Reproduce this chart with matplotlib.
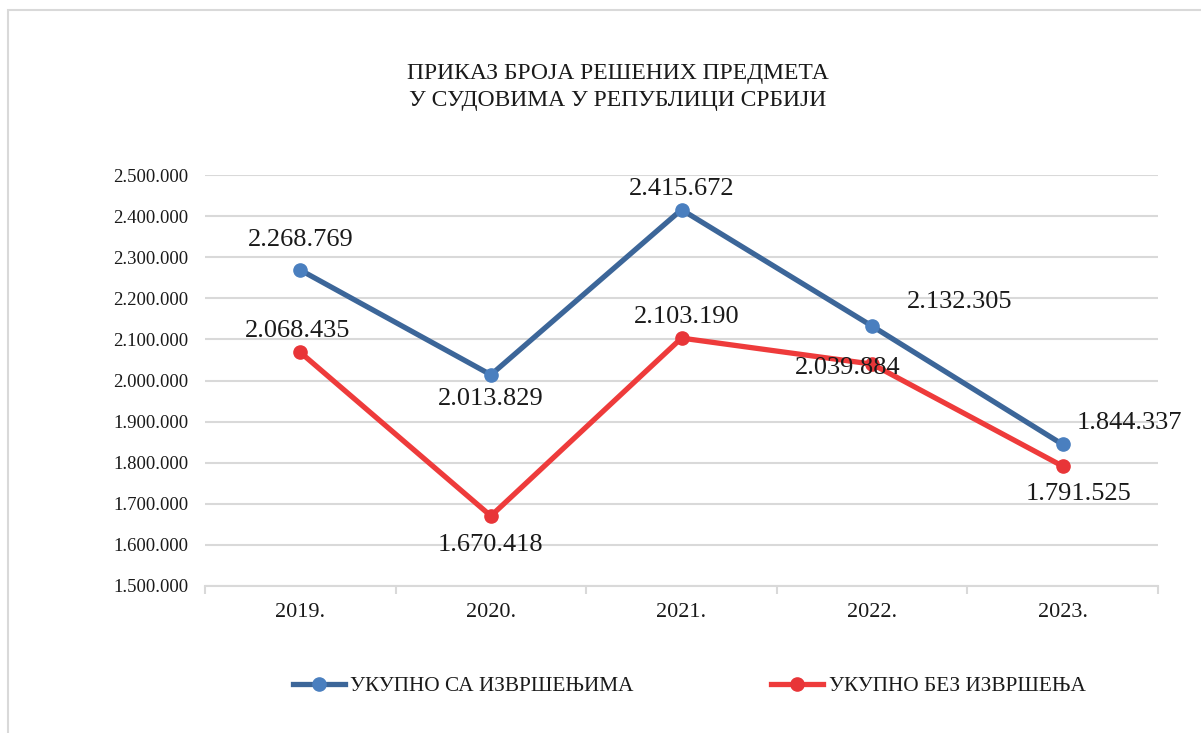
import matplotlib
matplotlib.use("Agg")
import matplotlib.pyplot as plt
from matplotlib.patches import Rectangle
from matplotlib.lines import Line2D

plt.rcParams['font.family'] = ['Liberation Serif', 'DejaVu Serif']

years = ["2019.", "2020.", "2021.", "2022.", "2023."]
with_enforcement = [2268769, 2013829, 2415672, 2132305, 1844337]
without_enforcement = [2068435, 1670418, 2103190, 2039884, 1791525]
series_names = ["УКУПНО СА ИЗВРШЕЊИМА", "УКУПНО БЕЗ ИЗВРШЕЊА"]
title = "ПРИКАЗ БРОЈА РЕШЕНИХ ПРЕДМЕТА\nУ СУДОВИМА У РЕПУБЛИЦИ СРБИЈИ"
yticks = [1500000 + i * 100000 for i in range(11)]

def fmt(v):
    return f"{v:,}".replace(",", ".")

W, H = 1201, 733
fig = plt.figure(figsize=(W / 100, H / 100), dpi=100)

# outer frame (only left and top edges visible)
fig.patches.append(Rectangle((8 / W, -0.1), 1.2, 1 - 10 / H + 0.1, transform=fig.transFigure,
                             fill=False, edgecolor="#D9D9D9", linewidth=1.5))

ax = fig.add_axes([205 / W, 1 - 586 / H, (1158 - 205) / W, (586 - 175) / H])
x = list(range(len(years)))

blue_line, blue_mark = "#3C6699", "#4A7FBF"
red_line, red_mark = "#EE3B3B", "#E83538"
text_col = "#1A1A1A"

ax.plot(x, with_enforcement, color=blue_line, linewidth=3.8, marker="o", markersize=9.5,
        markerfacecolor=blue_mark, markeredgecolor=blue_mark, zorder=3, solid_capstyle="round")
ax.plot(x, without_enforcement, color=red_line, linewidth=3.8, marker="o", markersize=9.5,
        markerfacecolor=red_mark, markeredgecolor=red_mark, zorder=3, solid_capstyle="round")

ax.set_xlim(-0.5, len(years) - 0.5)
ax.set_ylim(1500000, 2500000)
ax.set_yticks(yticks)
ax.set_yticklabels([fmt(v) for v in yticks], fontsize=13.5, color=text_col)
ax.set_xticks(x)
ax.set_xticklabels(years, fontsize=16, color=text_col)
ax.set_xticks([i - 0.5 for i in range(len(years) + 1)], minor=True)
ax.tick_params(axis="x", which="major", length=0, pad=12.5)
ax.tick_params(axis="x", which="minor", length=6, color="#D9D9D9", width=1.5)
ax.tick_params(axis="y", length=0, pad=12)
ax.grid(axis="y", color="#D9D9D9", linewidth=1.5)
ax.set_axisbelow(True)
for s in ["top", "right", "left"]:
    ax.spines[s].set_visible(False)
ax.spines["bottom"].set_color("#D9D9D9")
ax.spines["bottom"].set_linewidth(1.5)

# data labels (offsets in pixels)
blue_off = [(0, 30), (0, -24), (0, 21), (88, 24), (67, 21)]
red_off = [(-3, 21), (0, -29), (5, 21), (-24, -4), (16, -28)]
for i, (v, o) in enumerate(zip(with_enforcement, blue_off)):
    ax.annotate(fmt(v), (x[i], v), xytext=o, textcoords="offset pixels",
                ha="center", va="center", fontsize=19, color=text_col, zorder=4)
for i, (v, o) in enumerate(zip(without_enforcement, red_off)):
    ax.annotate(fmt(v), (x[i], v), xytext=o, textcoords="offset pixels",
                ha="center", va="center", fontsize=19, color=text_col, zorder=4)

fig.text(618 / W, 1 - 87 / H, title, ha="center", va="center", fontsize=17,
         color=text_col, linespacing=1.4)

handles = [Line2D([], [], color=blue_line, linewidth=3.8, marker="o", markersize=9.5,
                  markerfacecolor=blue_mark, markeredgecolor=blue_mark),
           Line2D([], [], color=red_line, linewidth=3.8, marker="o", markersize=9.5,
                  markerfacecolor=red_mark, markeredgecolor=red_mark)]
leg = fig.legend(handles, series_names, loc="center", bbox_to_anchor=(689 / W, 1 - 686 / H),
                 ncol=2, frameon=False, fontsize=15.3, handlelength=2.45, handletextpad=0.24,
                 columnspacing=6.5, borderpad=0, borderaxespad=0)
for t in leg.get_texts():
    t.set_color(text_col)

fig.savefig("out.png", dpi=100)
